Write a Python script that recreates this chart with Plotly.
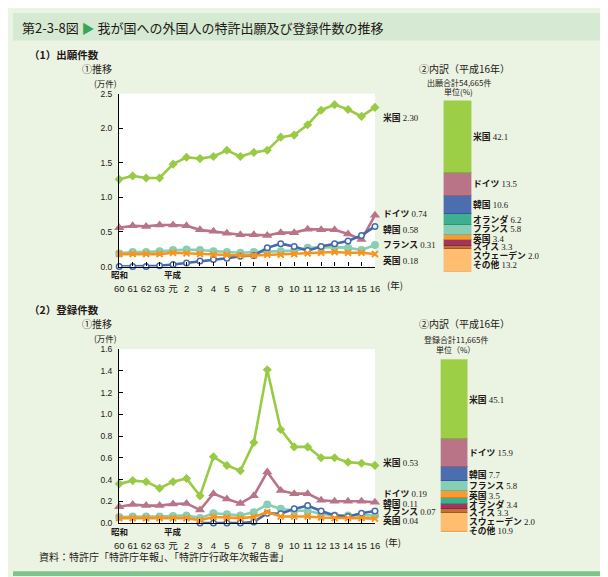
import plotly.graph_objects as go

# ---------------- data ----------------
years = ["60", "61", "62", "63", "元", "2", "3", "4", "5", "6", "7", "8",
         "9", "10", "11", "12", "13", "14", "15", "16"]
era_marks = {0: "昭和", 4: "平成"}

# (1) applications, 10k cases
app_us = [1.26, 1.31, 1.28, 1.28, 1.48, 1.58, 1.56, 1.59, 1.68, 1.59, 1.65, 1.68,
          1.87, 1.90, 2.05, 2.26, 2.34, 2.27, 2.17, 2.30]
app_de = [0.56, 0.59, 0.58, 0.60, 0.60, 0.59, 0.53, 0.51, 0.48, 0.46, 0.46, 0.45,
          0.49, 0.49, 0.54, 0.53, 0.53, 0.47, 0.39, 0.74]
app_kr = [0.00, 0.00, 0.00, 0.01, 0.03, 0.05, 0.08, 0.10, 0.12, 0.15, 0.16, 0.27,
          0.33, 0.29, 0.23, 0.29, 0.33, 0.37, 0.45, 0.58]
app_fr = [0.19, 0.21, 0.21, 0.22, 0.24, 0.245, 0.24, 0.22, 0.21, 0.20, 0.21, 0.22,
          0.22, 0.23, 0.27, 0.28, 0.28, 0.27, 0.24, 0.31]
app_uk = [0.18, 0.18, 0.18, 0.18, 0.20, 0.19, 0.18, 0.17, 0.17, 0.16, 0.16, 0.17,
          0.17, 0.18, 0.19, 0.20, 0.21, 0.20, 0.20, 0.18]

# (2) registrations, 10k cases
reg_us = [0.36, 0.39, 0.38, 0.32, 0.38, 0.41, 0.25, 0.61, 0.53, 0.48, 0.74, 1.41,
          0.86, 0.70, 0.70, 0.60, 0.60, 0.56, 0.55, 0.53]
reg_de = [0.15, 0.17, 0.16, 0.16, 0.175, 0.18, 0.12, 0.27, 0.22, 0.18, 0.25, 0.47,
          0.30, 0.27, 0.27, 0.21, 0.20, 0.20, 0.20, 0.19]
reg_kr = [None, None, None, None, None, None, 0.00, 0.00, 0.00, 0.00, 0.01, 0.09,
          0.085, 0.13, 0.16, 0.11, 0.07, 0.06, 0.09, 0.11]
reg_fr = [0.055, 0.06, 0.06, 0.06, 0.065, 0.07, 0.045, 0.09, 0.08, 0.07, 0.10, 0.17,
          0.13, 0.115, 0.11, 0.085, 0.07, 0.07, 0.07, 0.07]
reg_uk = [0.045, 0.045, 0.045, 0.045, 0.045, 0.045, 0.025, 0.055, 0.05, 0.045, 0.055, 0.10,
          0.06, 0.06, 0.06, 0.05, 0.045, 0.045, 0.045, 0.04]

end_names = ["米国", "ドイツ", "韓国", "フランス", "英国"]
end_values_app = ["2.30", "0.74", "0.58", "0.31", "0.18"]
end_values_reg = ["0.53", "0.19", "0.11", "0.07", "0.04"]

# breakdown (Heisei 16), %
app_cats = ["米国", "ドイツ", "韓国", "オランダ", "フランス", "英国", "スイス", "スウェーデン", "その他"]
app_share = [42.1, 13.5, 10.6, 6.2, 5.8, 3.4, 3.3, 2.0, 13.2]
reg_cats = ["米国", "ドイツ", "韓国", "フランス", "英国", "オランダ", "スイス", "スウェーデン", "その他"]
reg_share = [45.1, 15.9, 7.7, 5.8, 3.5, 3.4, 3.3, 2.0, 10.9]

# ---------------- styles ----------------
W, H = 608, 577
JP = "Noto Sans CJK JP"
MIX = "Liberation Serif, Noto Sans CJK JP"
TXT = "#231815"

cat_fill = {"米国": "#9CCF45", "ドイツ": "#B97488", "韓国": "#4A6EAE", "オランダ": "#3EB08F",
            "フランス": "#86CFB6", "英国": "#F99B33", "スイス": "#A23560",
            "スウェーデン": "#C27131", "その他": "#FFBD70"}
cat_edge = {"米国": "#7DB535", "ドイツ": "#9E5C70", "韓国": "#36589A", "オランダ": "#2E9577",
            "フランス": "#66B89C", "英国": "#E07F1A", "スイス": "#85264A",
            "スウェーデン": "#A35A20", "その他": "#E9A050"}

series_style = [
    ("米国", "#98CB43", dict(symbol="diamond", size=7, color="#98CB43")),
    ("ドイツ", "#B97488", dict(symbol="triangle-up", size=9, color="#B97488")),
    ("フランス", "#86CFB6", dict(symbol="circle", size=8, color="#86CFB6")),
    ("韓国", "#4569AC", dict(symbol="circle", size=5.5, color="white",
                           line=dict(color="#4569AC", width=1.5))),
    ("英国", "#F7941D", dict(symbol="x-thin", size=6, color="#F7941D",
                           line=dict(color="#F7941D", width=2))),
]


def px_x(p):
    return p / W


def px_y(p):
    return 1 - p / H


fig = go.Figure()

x_idx = list(range(len(years)))

line_sets = [
    ("x", "y", [app_us, app_de, app_fr, app_kr, app_uk]),
    ("x2", "y2", [reg_us, reg_de, reg_fr, reg_kr, reg_uk]),
]
for xa, ya, data in line_sets:
    for (name, color, mk), vals in zip(series_style, data):
        fig.add_trace(go.Scatter(
            x=x_idx, y=vals, mode="lines+markers", name=name,
            line=dict(color=color, width=2.6), marker=mk,
            xaxis=xa, yaxis=ya, cliponaxis=False, showlegend=False,
            connectgaps=False))

for xa, ya, cats, shares in [("x3", "y3", app_cats, app_share),
                             ("x4", "y4", reg_cats, reg_share)]:
    for c, v in reversed(list(zip(cats, shares))):
        fig.add_trace(go.Bar(
            x=[0], y=[v], name=c, xaxis=xa, yaxis=ya, width=1,
            marker=dict(color=cat_fill[c], line=dict(color=cat_edge[c], width=1.2)),
            showlegend=False))

# ---------------- layout ----------------
line_x_dom = [px_x(108), px_x(368)]
top_dom = [px_y(258), px_y(82)]
bot_dom = [px_y(519), px_y(342)]
bar1 = dict(x=[px_x(438), px_x(466)], ypx=(89.3, 263.3))
bar2 = dict(x=[px_x(435), px_x(462)], ypx=(352.3, 528.7))


def xaxis_line(anchor):
    return dict(domain=line_x_dom, anchor=anchor, range=[0, 19],
                tickvals=x_idx, ticktext=years, ticks="inside", ticklen=4,
                tickcolor="black", showline=True, linecolor="black", linewidth=1.4,
                showgrid=False, zeroline=False, ticklabelstandoff=13,
                tickfont=dict(family="Liberation Sans, " + JP, size=9.5, color=TXT),
                fixedrange=True)


def yaxis_line(anchor, dom, rng, dt):
    return dict(domain=dom, anchor=anchor, range=rng, dtick=dt, tickformat=".1f",
                ticks="inside", ticklen=4, tickcolor="black", showline=True,
                linecolor="black", linewidth=1.4, showgrid=False, zeroline=False,
                tickfont=dict(family="Liberation Sans", size=8.5, color=TXT),
                ticklabelstandoff=4)


fig.update_layout(
    width=W, height=H, autosize=False,
    margin=dict(l=0, r=0, t=0, b=0),
    paper_bgcolor="#EBF3E3", plot_bgcolor="white",
    barmode="stack", bargap=0,
    xaxis=xaxis_line("y"),
    yaxis=yaxis_line("x", top_dom, [0, 2.5], 0.5),
    xaxis2=xaxis_line("y2"),
    yaxis2=yaxis_line("x2", bot_dom, [0, 1.6], 0.2),
    xaxis3=dict(domain=bar1["x"], anchor="y3", range=[-0.5, 0.5], visible=False),
    yaxis3=dict(domain=[px_y(bar1["ypx"][1]), px_y(bar1["ypx"][0])], anchor="x3",
                range=[0, sum(app_share)], visible=False),
    xaxis4=dict(domain=bar2["x"], anchor="y4", range=[-0.5, 0.5], visible=False),
    yaxis4=dict(domain=[px_y(bar2["ypx"][1]), px_y(bar2["ypx"][0])], anchor="x4",
                range=[0, sum(reg_share)], visible=False),
)

shapes = [
    dict(type="rect", xref="paper", yref="paper", x0=0, x1=1, y0=px_y(28), y1=1,
         fillcolor="#D5E9D3", line=dict(width=0), layer="below"),
    dict(type="rect", xref="paper", yref="paper", x0=0, x1=1, y0=px_y(573), y1=px_y(568),
         fillcolor="#7FC38C", line=dict(width=0)),
]
fig.update_layout(shapes=shapes)

ann = []


def text(x, y, s, size=10, xanchor="left", family=JP, color=TXT, yanchor="middle"):
    ann.append(dict(x=px_x(x), y=px_y(y), xref="paper", yref="paper", text=s,
                    showarrow=False, xanchor=xanchor, yanchor=yanchor,
                    font=dict(family=family, size=size, color=color)))


text(7, 15, "第2-3-8図 <span style='color:#3AA655'>▶</span> 我が国への外国人の特許出願及び登録件数の推移", size=13)

text(14, 42, "<b>（1）出願件数</b>", size=10.5)
text(68, 56, "①推移", size=10)
text(94, 71, "(万件)", size=8.5, xanchor="center")
text(459, 56, "②内訳（平成16年）", size=10, xanchor="center")
text(453, 70.5, "出願合計54,665件", size=8, xanchor="center")
text(453, 80, "単位(%)", size=8, xanchor="center")

text(14, 302, "<b>（2）登録件数</b>", size=10.5)
text(68, 316, "①推移", size=10)
text(94, 331, "(万件)", size=8.5, xanchor="center")
text(459, 316, "②内訳（平成16年）", size=10, xanchor="center")
text(450, 332.5, "登録合計11,665件", size=8, xanchor="center")
text(450, 342.5, "単位（%）", size=8, xanchor="center")

text(24, 553, "資料：特許庁「特許庁年報」、「特許庁行政年次報告書」", size=10)

for xa, row_y in [("x", 266), ("x2", 527)]:
    for i, s in era_marks.items():
        ann.append(dict(x=i, y=px_y(row_y), xref=xa, yref="paper", text="<b>" + s + "</b>",
                        showarrow=False, xanchor="center", yanchor="middle",
                        font=dict(family=JP, size=8.5, color=TXT)))
text(378, 277, "(年)", size=9.5)
text(376, 538, "(年)", size=9.5)

end_shift_app = [-10, 1, -3, 0, -6]
end_shift_reg = [3, 8, 8, 3, -2]
order_app = [app_us, app_de, app_kr, app_fr, app_uk]
order_reg = [reg_us, reg_de, reg_kr, reg_fr, reg_uk]
for xa, ya, nums, vals, shifts in [("x", "y", end_values_app, order_app, end_shift_app),
                                   ("x2", "y2", end_values_reg, order_reg, end_shift_reg)]:
    for nm, num, v, sh in zip(end_names, nums, vals, shifts):
        ann.append(dict(x=19, y=v[-1], xref=xa, yref=ya, text="<b>" + nm + "</b> " + num,
                        showarrow=False, xanchor="left", yanchor="middle",
                        xshift=6, yshift=sh,
                        font=dict(family=MIX, size=8.8, color=TXT)))


def bar_labels(cats, shares, ypx, xleft, gap=9.0):
    top, bot = ypx
    total = sum(shares)
    scale = (bot - top) / total
    cum = 0.0
    prev = None
    for c, v in zip(cats, shares):
        center = top + (cum + v / 2) * scale
        cum += v
        y = center if prev is None else max(center, prev + gap)
        prev = y
        ann.append(dict(x=px_x(xleft), y=px_y(y), xref="paper", yref="paper",
                        text="<b>" + c + "</b> " + f"{v:.1f}",
                        showarrow=False, xanchor="left", yanchor="middle",
                        font=dict(family=MIX, size=8.8, color=TXT)))


bar_labels(app_cats, app_share, bar1["ypx"], 466)
bar_labels(reg_cats, reg_share, bar2["ypx"], 462)

fig.update_layout(annotations=ann)

fig.write_html("out.html")
